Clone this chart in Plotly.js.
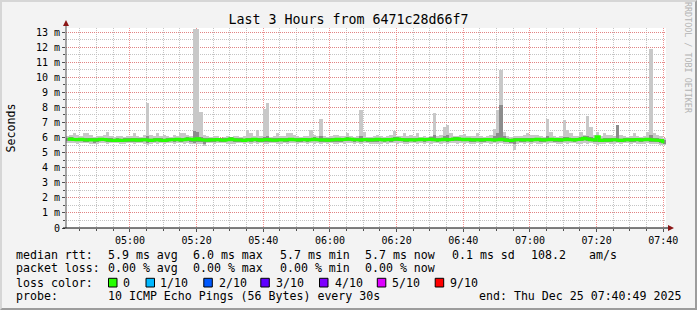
<!DOCTYPE html>
<html><head><meta charset="utf-8">
<script src="https://cdn.plot.ly/plotly-3.0.1.min.js"></script>
<style>
html,body{margin:0;padding:0;background:#f3f3f3}
#wrap{position:relative;width:697px;height:310px}
#chart{width:697px;height:310px}
#frame{position:absolute;left:0;top:0;width:697px;height:310px;box-sizing:border-box;border-top:2px solid #d6d6d6;border-left:2px solid #d6d6d6;border-right:2px solid #9c9c9c;border-bottom:2px solid #9c9c9c;pointer-events:none}
</style>
</head><body><div id="wrap"><div id="chart"></div><div id="frame"></div></div>
<script>
// ---- data (one value per minute, 04:40:49 -> 07:40:49) ----
const rangeStart = '2025-12-25 04:40:49';
const rangeEnd = '2025-12-25 07:40:49';
const firstTick = '2025-12-25 05:00:00';
const startSeconds = 4*3600 + 40*60 + 49;

const smokeMax = [
 6.10,6.15,6.30,6.15,6.10,6.30,6.30,6.15,6.05,6.10,
 6.10,6.20,6.40,6.10,6.05,6.10,6.08,6.05,6.10,6.12,
 6.30,6.10,6.05,6.20,8.30,6.15,6.10,6.30,6.10,6.20,
 6.10,6.05,6.20,6.10,6.30,6.30,6.15,6.10,13.20,13.20,
 7.70,6.20,6.10,6.05,6.08,6.10,6.00,6.05,6.10,6.05,
 6.08,6.10,6.05,6.10,6.50,6.30,6.10,6.50,6.10,7.90,
 8.30,6.05,6.10,6.30,6.08,6.10,6.30,6.30,6.20,6.10,
 6.05,6.10,6.08,6.50,6.15,6.10,7.20,6.10,6.05,6.10,
 6.20,6.20,6.10,6.08,6.30,6.10,6.05,6.10,7.80,6.40,
 6.05,6.05,6.10,6.20,6.10,6.05,6.10,6.20,6.45,6.10,
 6.10,6.30,6.08,6.20,6.10,6.30,6.05,6.10,6.05,6.10,
 7.65,6.10,6.20,6.70,6.85,6.30,6.10,6.08,6.20,6.25,
 6.10,6.08,6.10,6.30,6.10,6.05,6.10,6.20,6.55,7.85,
 10.50,6.40,6.10,6.05,6.10,6.08,6.10,6.15,6.30,6.20,
 6.20,6.20,6.10,6.05,7.20,6.40,6.10,6.05,6.10,7.15,
 6.50,6.30,6.10,6.10,6.40,6.15,7.40,6.70,6.15,6.40,
 6.10,6.30,6.20,6.20,6.10,6.80,6.20,6.10,6.05,6.10,
 6.30,6.10,6.05,6.10,6.40,11.90,6.30,6.15,6.10,6.00];

const smokeMin = [
 5.65,5.62,5.64,5.60,5.62,5.66,5.62,5.58,5.55,5.57,
 5.64,5.62,5.60,5.63,5.65,5.62,5.58,5.60,5.62,5.64,
 5.60,5.62,5.65,5.60,5.50,5.58,5.62,5.60,5.63,5.60,
 5.62,5.65,5.60,5.62,5.64,5.60,5.62,5.58,5.55,5.60,
 5.58,5.45,5.62,5.64,5.60,5.62,5.65,5.62,5.60,5.58,
 5.55,5.62,5.64,5.60,5.62,5.58,5.62,5.60,5.62,5.60,
 5.58,5.62,5.64,5.55,5.60,5.62,5.58,5.62,5.64,5.60,
 5.62,5.65,5.60,5.62,5.58,5.62,5.60,5.64,5.60,5.62,
 5.58,5.55,5.62,5.60,5.64,5.62,5.60,5.62,5.58,5.62,
 5.64,5.60,5.55,5.55,5.58,5.62,5.60,5.62,5.64,5.60,
 5.62,5.58,5.60,5.62,5.64,5.60,5.62,5.58,5.62,5.60,
 5.62,5.64,5.60,5.62,5.58,5.62,5.64,5.60,5.62,5.60,
 5.62,5.55,5.58,5.62,5.60,5.64,5.62,5.60,5.62,5.60,
 5.62,5.58,5.60,5.55,5.20,5.58,5.62,5.60,5.64,5.60,
 5.62,5.58,5.60,5.62,5.60,5.64,5.62,5.55,5.60,5.62,
 5.60,5.62,5.64,5.60,5.58,5.62,5.60,5.62,5.55,5.52,
 5.55,5.60,5.62,5.60,5.58,5.62,5.60,5.62,5.64,5.60,
 5.62,5.58,5.55,5.60,5.62,5.60,5.58,5.55,5.52,5.50];

const innerHi = [
 6.00,6.02,5.98,5.97,6.00,5.98,5.96,5.98,5.95,5.97,
 6.00,5.98,5.96,5.94,5.93,5.95,5.92,5.94,5.96,5.95,
 5.97,5.94,5.96,5.98,6.10,5.93,5.96,5.98,5.94,5.92,
 5.95,5.98,5.97,6.00,5.96,5.98,6.02,6.00,6.45,6.40,
 6.05,5.96,5.94,5.97,5.95,5.99,5.96,5.94,5.98,6.02,
 5.97,5.95,5.96,5.93,5.98,5.96,6.00,5.97,5.94,6.05,
 6.10,5.96,5.94,5.95,5.98,5.96,5.97,6.00,5.98,5.95,
 5.97,5.99,5.96,6.00,6.01,5.98,6.10,5.97,5.94,5.96,
 5.98,6.00,5.97,5.99,6.02,6.00,5.97,5.98,6.10,6.00,
 5.97,5.95,5.98,6.00,5.98,5.96,5.99,5.97,6.05,6.02,
 5.99,5.97,5.95,5.98,5.96,5.98,6.00,5.97,5.99,6.01,
 6.15,5.96,5.98,6.10,6.15,5.99,6.02,6.04,6.00,5.98,
 6.00,5.97,5.96,5.98,5.95,5.97,5.99,5.98,6.10,6.30,
 8.15,6.10,5.94,5.92,5.96,5.98,5.97,5.95,5.98,5.96,
 5.98,6.00,5.97,5.95,6.10,6.00,5.97,5.99,5.96,6.05,
 6.05,5.98,5.96,5.99,6.01,6.07,6.10,6.05,5.96,6.10,
 5.92,5.95,5.94,5.96,5.98,6.80,5.93,5.96,5.98,5.95,
 5.97,5.99,5.96,5.98,6.00,6.20,5.95,5.94,5.92,5.84];

const innerLo = [
 5.76,5.78,5.75,5.74,5.76,5.73,5.72,5.74,5.66,5.70,
 5.76,5.75,5.72,5.70,5.69,5.71,5.68,5.70,5.72,5.71,
 5.73,5.70,5.72,5.74,5.62,5.69,5.72,5.74,5.70,5.68,
 5.71,5.74,5.73,5.76,5.72,5.74,5.78,5.72,5.66,5.70,
 5.70,5.60,5.70,5.73,5.71,5.75,5.72,5.70,5.74,5.76,
 5.70,5.71,5.72,5.69,5.74,5.70,5.76,5.73,5.70,5.72,
 5.72,5.72,5.70,5.68,5.74,5.72,5.73,5.76,5.74,5.71,
 5.73,5.75,5.72,5.74,5.75,5.74,5.70,5.73,5.70,5.72,
 5.72,5.70,5.73,5.75,5.78,5.76,5.73,5.74,5.70,5.75,
 5.73,5.71,5.68,5.70,5.74,5.72,5.75,5.73,5.76,5.76,
 5.75,5.72,5.71,5.74,5.72,5.74,5.76,5.73,5.75,5.77,
 5.74,5.72,5.74,5.76,5.73,5.75,5.78,5.80,5.76,5.74,
 5.76,5.70,5.72,5.74,5.71,5.73,5.75,5.74,5.72,5.74,
 5.76,5.72,5.70,5.66,5.55,5.74,5.73,5.71,5.74,5.72,
 5.74,5.76,5.73,5.71,5.74,5.76,5.73,5.70,5.72,5.74,
 5.76,5.74,5.72,5.75,5.77,5.82,5.78,5.74,5.70,5.68,
 5.68,5.71,5.70,5.72,5.74,5.71,5.69,5.72,5.74,5.71,
 5.73,5.75,5.70,5.74,5.76,5.73,5.71,5.70,5.66,5.60];

const medianRtt = [
 5.88,5.90,5.87,5.86,5.88,5.85,5.84,5.86,5.83,5.85,
 5.88,5.87,5.84,5.82,5.81,5.83,5.80,5.82,5.84,5.83,
 5.85,5.82,5.84,5.86,5.83,5.81,5.84,5.86,5.82,5.80,
 5.83,5.86,5.85,5.88,5.84,5.86,5.90,5.88,5.85,5.92,
 5.86,5.84,5.82,5.85,5.83,5.87,5.84,5.82,5.86,5.90,
 5.85,5.83,5.84,5.81,5.86,5.84,5.88,5.85,5.82,5.85,
 5.87,5.84,5.82,5.83,5.86,5.84,5.85,5.88,5.86,5.83,
 5.85,5.87,5.84,5.86,5.89,5.86,5.84,5.85,5.82,5.84,
 5.86,5.88,5.85,5.87,5.90,5.88,5.85,5.86,5.84,5.87,
 5.85,5.83,5.86,5.88,5.86,5.84,5.87,5.85,5.88,5.90,
 5.87,5.85,5.83,5.86,5.84,5.86,5.88,5.85,5.87,5.89,
 5.86,5.84,5.86,5.88,5.85,5.87,5.90,5.92,5.88,5.86,
 5.88,5.85,5.84,5.86,5.83,5.85,5.87,5.86,5.84,5.86,
 5.88,5.85,5.82,5.80,5.84,5.86,5.85,5.83,5.86,5.84,
 5.86,5.88,5.85,5.83,5.86,5.88,5.85,5.87,5.84,5.86,
 5.88,5.86,5.84,5.87,5.89,5.95,5.90,5.86,5.84,6.05,
 5.80,5.83,5.82,5.84,5.86,5.83,5.81,5.84,5.86,5.83,
 5.85,5.87,5.84,5.86,5.88,5.85,5.83,5.82,5.80,5.72];

const yTickVals = [0,1,2,3,4,5,6,7,8,9,10,11,12,13];
const yTickText = ['0','1 m','2 m','3 m','4 m','5 m','6 m','7 m','8 m','9 m','10 m','11 m','12 m','13 m'];

const lossLevels = ['0','1/10','2/10','3/10','4/10','5/10','9/10'];
const lossColors = ['#26ff00','#00b8ff','#0059ff','#5e00ff','#7e00ff','#dd00ff','#ff0000'];

// ---- helpers ----
function pad(n){return (n<10?'0':'')+n;}
function stamp(sec){const h=Math.floor(sec/3600),m=Math.floor(sec%3600/60),s=Math.floor(sec%60);return '2025-12-25 '+pad(h)+':'+pad(m)+':'+pad(s);}
const times = smokeMax.map((_,i)=>stamp(startSeconds + i*60 + 30));

const L=66, T=28, PW=600, PH=200, W=697, H=310;
const px = x => (x-L)/PW;
const py = y => (T+PH-y)/PH;
const MONO = 'DejaVu Sans Mono';

const traces = [
 {type:'bar', x:times, base:smokeMin, y:smokeMax.map((v,i)=>v-smokeMin[i]), width:61000,
  marker:{color:'#c8c8c8', line:{width:0}}, hoverinfo:'skip', showlegend:false},
 {type:'bar', x:times, base:innerLo, y:innerHi.map((v,i)=>v-innerLo[i]), width:61000,
  marker:{color:'#8c8c8c', line:{width:0}}, hoverinfo:'skip', showlegend:false},
 {type:'scatter', mode:'lines', x:times, y:medianRtt, line:{color:'#26ff00', width:3, shape:'hvh'},
  hoverinfo:'skip', showlegend:false}
];

const ann = [];
function txt(x,y,text,extra){ann.push(Object.assign({xref:'paper',yref:'paper',x:px(x),y:py(y),text:text,showarrow:false,
  xanchor:'left',yanchor:'middle',borderpad:0,borderwidth:0,font:{family:MONO,size:11.6,color:'#000'}},extra||{}));}

txt(16,254.5,'median rtt:');
txt(107.7,254.5,'5.9 ms avg');
txt(192.7,254.5,'6.0 ms max');
txt(279.5,254.5,'5.7 ms min');
txt(365.4,254.5,'5.7 ms now');
txt(451.7,254.5,'0.1 ms sd');
txt(530.9,254.5,'108.2');
txt(588.8,254.5,'am/s');
txt(16,268.4,'packet loss:');
txt(107.7,268.4,'0.00 % avg');
txt(192.7,268.4,'0.00 % max');
txt(279.5,268.4,'0.00 % min');
txt(365.4,268.4,'0.00 % now');
txt(16,282.6,'loss color:');
const boxX = [108.5,146,203.8,260.8,319.5,377.3,435.2];
const labX = [123,160,218.5,276,334.6,391.6,450.4];
const shapes = [];
lossLevels.forEach((lv,k)=>{
  txt(labX[k],282.6,lv);
  shapes.push({type:'rect',xref:'paper',yref:'paper',x0:px(boxX[k]),x1:px(boxX[k]+8.5),y0:py(287),y1:py(278.3),
    fillcolor:lossColors[k],line:{color:'#000',width:1}});
});
txt(16,296.4,'probe:');
txt(107.7,296.4,'10 ICMP Echo Pings (56 Bytes) every 30s');
txt(478.8,296.4,'end: Thu Dec 25 07:40:49 2025');
// y axis title
ann.push({xref:'paper',yref:'paper',x:px(10.5),y:py(128),text:'Seconds',textangle:-90,showarrow:false,
  xanchor:'center',yanchor:'middle',borderpad:0,borderwidth:0,font:{family:MONO,size:11.6,color:'#000'}});
// watermark
ann.push({xref:'paper',yref:'paper',x:px(688),y:py(58),text:'RRDTOOL / TOBI OETIKER',textangle:90,showarrow:false,
  xanchor:'center',yanchor:'middle',borderpad:0,borderwidth:0,font:{family:MONO,size:8.4,color:'#b4b4b4'}});

// axis lines & arrows
shapes.push({type:'line',xref:'paper',yref:'paper',x0:px(66),x1:px(66),y0:py(228),y1:py(22),line:{color:'#505050',width:1}});
shapes.push({type:'line',xref:'paper',yref:'paper',x0:px(63),x1:px(670),y0:py(228),y1:py(228),line:{color:'#000',width:1}});
shapes.push({type:'path',xref:'paper',yref:'paper',
  path:'M '+px(63)+' '+py(26)+' L '+px(69)+' '+py(26)+' L '+px(66)+' '+py(20)+' Z',fillcolor:'#8b1616',line:{width:0}});
shapes.push({type:'path',xref:'paper',yref:'paper',
  path:'M '+px(668)+' '+py(225)+' L '+px(668)+' '+py(231)+' L '+px(674)+' '+py(228)+' Z',fillcolor:'#8b1616',line:{width:0}});

const layout = {
  width:W, height:H, margin:{l:L, r:W-L-PW, t:T, b:H-T-PH, pad:0},
  paper_bgcolor:'#f3f3f3', plot_bgcolor:'#ffffff',
  barmode:'overlay', bargap:0, showlegend:false,
  title:{text:'Last 3 Hours from 6471c28d66f7', font:{family:MONO,size:13.3,color:'#000'},
    x:0.5, xref:'container', xanchor:'center', y:1-19/H, yref:'container', yanchor:'middle'},
  xaxis:{type:'date', range:[rangeStart, rangeEnd], tick0:firstTick, dtick:1200000, tickformat:'%H:%M',
    showgrid:true, gridcolor:'rgba(235,110,110,0.75)', griddash:'1px,1px', gridwidth:1,
    minor:{dtick:300000, tick0:firstTick, showgrid:true, gridcolor:'#c4c4c4', griddash:'1px,1px', ticks:'outside', ticklen:2, tickcolor:'#505050'},
    ticks:'outside', ticklen:3, tickcolor:'#505050', showline:false, zeroline:false,
    tickfont:{family:MONO, size:10, color:'#000'}, fixedrange:true},
  yaxis:{range:[0,13.265], tickmode:'array', tickvals:yTickVals, ticktext:yTickText,
    showgrid:true, gridcolor:'rgba(235,110,110,0.75)', griddash:'1px,1px', gridwidth:1,
    minor:{tickmode:'linear', tick0:0, dtick:0.5, showgrid:true, gridcolor:'#c4c4c4', griddash:'1px,1px', ticks:'outside', ticklen:2, tickcolor:'#505050'},
    ticks:'outside', ticklen:3, tickcolor:'#505050', showline:false, zeroline:false,
    tickfont:{family:MONO, size:10, color:'#000'}, fixedrange:true},
  annotations:ann, shapes:shapes
};
Plotly.newPlot('chart', traces, layout, {displayModeBar:false, staticPlot:true});
</script>
</body></html>
